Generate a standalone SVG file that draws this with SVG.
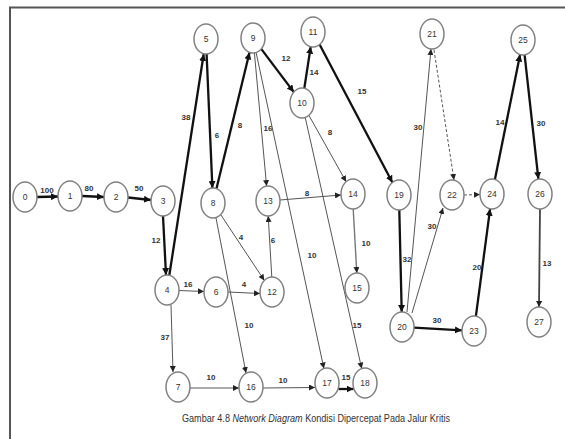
<svg xmlns="http://www.w3.org/2000/svg" width="565" height="439" viewBox="0 0 565 439">
<style>
.nd ellipse{fill:#fff;stroke:#808080;stroke-width:1.5}
.nd text{font-family:"Liberation Sans",Arial,sans-serif;font-size:8.5px;fill:#333;text-anchor:middle}
.tk{stroke:#111;stroke-width:2.3;fill:none;marker-end:url(#ak)}
.tn{stroke:#555;stroke-width:1;fill:none;marker-end:url(#an)}
.ds{stroke:#555;stroke-width:1;fill:none;stroke-dasharray:3,2;marker-end:url(#an)}
.lb{font-family:"Liberation Sans",Arial,sans-serif;font-size:8px;font-weight:bold;fill:#333;text-anchor:middle}
.cap{font-family:"Liberation Sans",Arial,sans-serif;font-size:10px;fill:#333}
</style>
<defs>
<marker id="ak" markerUnits="userSpaceOnUse" markerWidth="8" markerHeight="7" refX="7" refY="3.5" orient="auto"><path d="M0,0 L7,3.5 L0,7 z" fill="#111"/></marker>
<marker id="an" markerUnits="userSpaceOnUse" markerWidth="7" markerHeight="6" refX="6" refY="3" orient="auto"><path d="M0,0 L6,3 L0,6 z" fill="#222"/></marker>
</defs>
<rect width="565" height="439" fill="#fff"/>
<path d="M10,439 V7.5 H565" fill="none" stroke="#555" stroke-width="2"/>
<g id="connectors">
<line class="tk" x1="37" y1="197" x2="58" y2="196.5"/>
<line class="tk" x1="82" y1="196" x2="104" y2="197"/>
<line class="tk" x1="128" y1="197.5" x2="151" y2="200"/>
<line class="tk" x1="163" y1="216" x2="166" y2="275"/>
<line class="tk" x1="169.3" y1="275.3" x2="203.7" y2="54"/>
<line class="tk" x1="206.6" y1="54" x2="212.4" y2="188"/>
<line class="tk" x1="216.5" y1="188.6" x2="249.5" y2="52.4"/>
<line class="tk" x1="261.2" y1="48.9" x2="293.8" y2="92.1"/>
<line class="tk" x1="304.3" y1="88.3" x2="310.7" y2="46.7"/>
<line class="tk" x1="319.6" y1="44.5" x2="392.4" y2="182.5"/>
<line class="tk" x1="399.3" y1="210" x2="401.7" y2="312"/>
<line class="tk" x1="414" y1="327.7" x2="462" y2="330.3"/>
<line class="tk" x1="475.9" y1="316.2" x2="490.1" y2="208.8"/>
<line class="tk" x1="494.9" y1="179.5" x2="520.1" y2="54.5"/>
<line class="tk" x1="524.6" y1="54.9" x2="538.4" y2="179.1"/>
<line class="tk" x1="338.5" y1="389" x2="353.5" y2="389"/>
<line class="tn" x1="540" y1="209" x2="539" y2="307" style="stroke-width:1.8;stroke:#444"/>
<line class="tn" x1="179" y1="290.5" x2="204" y2="291.5"/>
<line class="tn" x1="228" y1="292" x2="260" y2="293.5"/>
<line class="tn" x1="220.7" y1="214.6" x2="264.3" y2="280.4"/>
<line class="tn" x1="271.8" y1="277" x2="268.2" y2="216"/>
<line class="tn" x1="280" y1="200" x2="341" y2="195"/>
<line class="tn" x1="254.4" y1="52.9" x2="266.6" y2="186.1"/>
<line class="tn" x1="256.1" y1="52.5" x2="323.9" y2="368.5"/>
<line class="tn" x1="308.9" y1="115.3" x2="346.1" y2="181.7"/>
<line class="tn" x1="305.2" y1="117.4" x2="361.7" y2="368.6"/>
<line class="tn" x1="353.2" y1="209" x2="356.8" y2="273" style="stroke-width:1.4;stroke:#777"/>
<line class="tn" x1="171" y1="305" x2="173" y2="372"/>
<line class="tn" x1="216" y1="218" x2="246" y2="373"/>
<line class="tn" x1="190" y1="388" x2="239" y2="388"/>
<line class="tn" x1="263" y1="388" x2="315" y2="387.5"/>
<line class="tn" x1="407" y1="312" x2="431" y2="49"/>
<line class="tn" x1="412" y1="313" x2="443" y2="208"/>
<line class="ds" x1="434" y1="50" x2="454" y2="180"/>
<line class="ds" x1="464" y1="195" x2="480" y2="194.5"/>
</g>
<g id="labels">
<text class="lb" x="47" y="193">100</text>
<text class="lb" x="89" y="191">80</text>
<text class="lb" x="139" y="191">50</text>
<text class="lb" x="156" y="243">12</text>
<text class="lb" x="186" y="120">38</text>
<text class="lb" x="217" y="138">6</text>
<text class="lb" x="240" y="128">8</text>
<text class="lb" x="268" y="131">16</text>
<text class="lb" x="286" y="61">12</text>
<text class="lb" x="314" y="75">14</text>
<text class="lb" x="330" y="135">8</text>
<text class="lb" x="362" y="94">15</text>
<text class="lb" x="418" y="130">30</text>
<text class="lb" x="500" y="125">14</text>
<text class="lb" x="541" y="126">30</text>
<text class="lb" x="241" y="240">4</text>
<text class="lb" x="273" y="243">6</text>
<text class="lb" x="307" y="196">8</text>
<text class="lb" x="312" y="258">10</text>
<text class="lb" x="188" y="287">16</text>
<text class="lb" x="244" y="287">4</text>
<text class="lb" x="249" y="328">10</text>
<text class="lb" x="165" y="340">37</text>
<text class="lb" x="211" y="380">10</text>
<text class="lb" x="283" y="383">10</text>
<text class="lb" x="346" y="380">15</text>
<text class="lb" x="357" y="328">15</text>
<text class="lb" x="366" y="246">10</text>
<text class="lb" x="407" y="262">32</text>
<text class="lb" x="432" y="229">30</text>
<text class="lb" x="477" y="270">20</text>
<text class="lb" x="437" y="323">30</text>
<text class="lb" x="547" y="266">13</text>
</g>
<g id="n0" class="nd"><ellipse cx="25" cy="197" rx="12" ry="15"/><text x="25" y="200">0</text></g>
<g id="n1" class="nd"><ellipse cx="70" cy="196" rx="12" ry="15"/><text x="70" y="199">1</text></g>
<g id="n2" class="nd"><ellipse cx="116" cy="197" rx="12" ry="15"/><text x="116" y="200">2</text></g>
<g id="n3" class="nd"><ellipse cx="163" cy="201" rx="12" ry="15"/><text x="163" y="204">3</text></g>
<g id="n4" class="nd"><ellipse cx="167" cy="290" rx="12" ry="15"/><text x="167" y="293">4</text></g>
<g id="n5" class="nd"><ellipse cx="206" cy="39" rx="12" ry="15"/><text x="206" y="42">5</text></g>
<g id="n6" class="nd"><ellipse cx="216" cy="292" rx="12" ry="15"/><text x="216" y="295">6</text></g>
<g id="n7" class="nd"><ellipse cx="178" cy="387" rx="12" ry="15"/><text x="178" y="390">7</text></g>
<g id="n8" class="nd"><ellipse cx="213" cy="203" rx="12" ry="15"/><text x="213" y="206">8</text></g>
<g id="n9" class="nd"><ellipse cx="253" cy="38" rx="12" ry="15"/><text x="253" y="41">9</text></g>
<g id="n10" class="nd"><ellipse cx="302" cy="103" rx="12" ry="15"/><text x="302" y="106">10</text></g>
<g id="n11" class="nd"><ellipse cx="313" cy="32" rx="12" ry="15"/><text x="313" y="35">11</text></g>
<g id="n12" class="nd"><ellipse cx="272" cy="292" rx="12" ry="15"/><text x="272" y="295">12</text></g>
<g id="n13" class="nd"><ellipse cx="268" cy="201" rx="12" ry="15"/><text x="268" y="204">13</text></g>
<g id="n14" class="nd"><ellipse cx="353" cy="194" rx="12" ry="15"/><text x="353" y="197">14</text></g>
<g id="n15" class="nd"><ellipse cx="357" cy="288" rx="12" ry="15"/><text x="357" y="291">15</text></g>
<g id="n16" class="nd"><ellipse cx="251" cy="387" rx="12" ry="15"/><text x="251" y="390">16</text></g>
<g id="n17" class="nd"><ellipse cx="327" cy="383" rx="12" ry="15"/><text x="327" y="386">17</text></g>
<g id="n18" class="nd"><ellipse cx="365" cy="383" rx="12" ry="15"/><text x="365" y="386">18</text></g>
<g id="n19" class="nd"><ellipse cx="399" cy="195" rx="12" ry="15"/><text x="399" y="198">19</text></g>
<g id="n20" class="nd"><ellipse cx="402" cy="327" rx="12" ry="15"/><text x="402" y="330">20</text></g>
<g id="n21" class="nd"><ellipse cx="432" cy="34" rx="12" ry="15"/><text x="432" y="37">21</text></g>
<g id="n22" class="nd"><ellipse cx="452" cy="195" rx="12" ry="15"/><text x="452" y="198">22</text></g>
<g id="n23" class="nd"><ellipse cx="474" cy="331" rx="12" ry="15"/><text x="474" y="334">23</text></g>
<g id="n24" class="nd"><ellipse cx="492" cy="194" rx="12" ry="15"/><text x="492" y="197">24</text></g>
<g id="n25" class="nd"><ellipse cx="523" cy="40" rx="12" ry="15"/><text x="523" y="43">25</text></g>
<g id="n26" class="nd"><ellipse cx="540" cy="194" rx="12" ry="15"/><text x="540" y="197">26</text></g>
<g id="n27" class="nd"><ellipse cx="539" cy="322" rx="12" ry="15"/><text x="539" y="325">27</text></g>
<text class="cap" x="182" y="422" textLength="268" lengthAdjust="spacingAndGlyphs">Gambar 4.8 <tspan font-style="italic">Network Diagram</tspan> Kondisi Dipercepat Pada Jalur Kritis</text>
</svg>
